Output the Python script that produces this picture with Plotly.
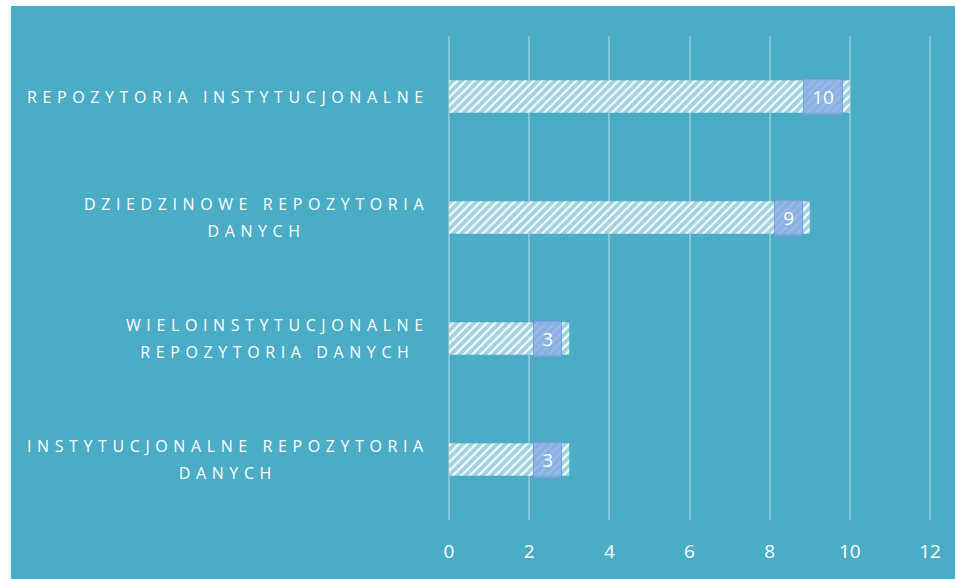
import plotly.graph_objects as go

categories = [
    "REPOZYTORIA INSTYTUCJONALNE",
    "DZIEDZINOWE REPOZYTORIA<br>DANYCH",
    "WIELOINSTYTUCJONALNE<br>REPOZYTORIA DANYCH",
    "INSTYTUCJONALNE REPOZYTORIA<br>DANYCH",
]
values = [10, 9, 3, 3]
tick_values = [0, 2, 4, 6, 8, 10, 12]
tick_labels = ["0", "2", "4", "6", "8", "10", "12"]

TEAL = "#4BACC6"
FONT = "Open Sans"

fig = go.Figure()
fig.add_trace(go.Bar(
    x=values,
    y=categories,
    orientation="h",
    marker=dict(
        color="white",
        line=dict(width=0),
        pattern=dict(shape="/", fgcolor="#46A8C3", bgcolor="white", size=6, solidity=0.68),
    ),
    hoverinfo="skip",
))

annotations = []
# category labels with letter spacing
for cat in categories:
    lines = cat.split("<br>")
    styled = "<br>".join(
        '<span style="font-size:16px;letter-spacing:5.6px">' + ln + "</span>" for ln in lines
    )
    annotations.append(dict(
        x=0, xref="paper", y=cat, yref="y",
        text=styled, showarrow=False,
        xanchor="right", yanchor="middle", align="center",
        xshift=-16,
        font=dict(family=FONT, size=21, color="white"),
    ))
# value labels
for cat, v in zip(categories, values):
    annotations.append(dict(
        x=v, xref="x", y=cat, yref="y",
        text="\u2009" + str(v) + "\u2009", showarrow=False,
        xanchor="right", yanchor="middle",
        xshift=-7,
        bgcolor="rgba(128,168,224,0.78)",
        bordercolor="rgba(100,150,212,0.8)", borderwidth=1, borderpad=5,
        font=dict(family=FONT, size=19, color="white"),
    ))

W, H = 955, 579
L, R, T, B = 447, 23, 36, 59
pw, ph = W - L - R, H - T - B
shapes = [dict(
    type="rect", xref="paper", yref="paper", layer="below",
    x0=(11 - L) / pw, x1=(W - L + 5) / pw,
    y0=-(B + 5) / ph, y1=1 + (T - 6) / ph,
    fillcolor=TEAL, line=dict(width=0),
)]

fig.update_layout(
    width=W, height=H,
    margin=dict(l=L, r=R, t=T, b=B),
    paper_bgcolor="white",
    plot_bgcolor="rgba(0,0,0,0)",
    showlegend=False,
    bargap=0.73,
    annotations=annotations,
    shapes=shapes,
    font=dict(family=FONT, color="white"),
)
fig.update_xaxes(
    range=[-0.05, 12.05],
    tickvals=tick_values, ticktext=tick_labels,
    showgrid=True, gridcolor="rgba(255,255,255,0.3)", gridwidth=1.5,
    zeroline=False, showline=False,
    ticks="", ticklabelstandoff=18,
    tickfont=dict(family=FONT, size=19, color="white"),
)
fig.update_yaxes(
    autorange="reversed",
    showticklabels=False, showgrid=False, zeroline=False, showline=False, ticks="",
)

fig.write_html(
    "out.html",
    config={"displayModeBar": False},
    post_script="document.body.style.margin='0';document.body.style.overflow='hidden';",
)
